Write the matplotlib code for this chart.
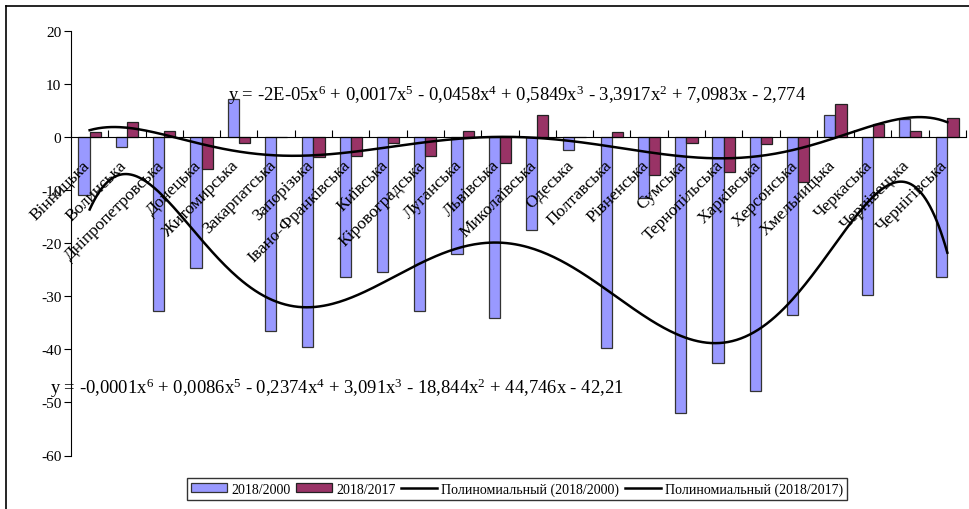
import numpy as np
import matplotlib
matplotlib.use("Agg")
import matplotlib.pyplot as plt
from matplotlib.lines import Line2D

plt.rcParams['font.family'] = ['Liberation Serif', 'DejaVu Serif']
plt.rcParams['mathtext.fontset'] = 'custom'
plt.rcParams['mathtext.rm'] = 'Liberation Serif'
plt.rcParams['mathtext.it'] = 'Liberation Serif:italic'
plt.rcParams['axes.unicode_minus'] = False

regions = ["Вінницька", "Волинська", "Дніпропетровська", "Донецька", "Житомирська",
           "Закарпатська", "Запорізька", "Івано-Франківська", "Київська", "Кіровоградська",
           "Луганська", "Львівська", "Миколаївська", "Одеська", "Полтавська", "Рівненська",
           "Сумська", "Тернопільська", "Харківська", "Херсонська", "Хмельницька",
           "Черкаська", "Чернівецька", "Чернігівська"]

s2000 = [-11.0, -1.8, -32.8, -24.7, 7.2, -36.6, -39.6, -26.4, -25.4, -32.7, -22.0, -34.0,
         -17.5, -2.5, -39.7, -11.5, -52.0, -42.6, -47.8, -33.5, 4.1, -29.8, 3.4, -26.4]
s2017 = [1.0, 2.9, 1.1, -6.0, -1.1, 0.0, -3.8, -3.6, -1.1, -3.5, 1.1, -4.8,
         4.1, 0.0, 1.0, -7.1, -1.1, -6.5, -1.3, -8.4, 6.2, 2.45, 1.1, 3.6]

series_names = ["2018/2000", "2018/2017"]
trend_names = ["Полиномиальный (2018/2000)", "Полиномиальный (2018/2017)"]
eq2017 = (r"y = -2E-05$\mathrm{x}^{6}$ + 0,0017$\mathrm{x}^{5}$ - 0,0458$\mathrm{x}^{4}$ + "
          r"0,5849$\mathrm{x}^{3}$ - 3,3917$\mathrm{x}^{2}$ + 7,0983x - 2,774")
eq2000 = (r"y = -0,0001$\mathrm{x}^{6}$ + 0,0086$\mathrm{x}^{5}$ - 0,2374$\mathrm{x}^{4}$ + "
          r"3,091$\mathrm{x}^{3}$ - 18,844$\mathrm{x}^{2}$ + 44,746x - 42,21")

c_blue = '#9999FF'
c_maroon = '#993366'

W, H = 969, 510
fig = plt.figure(figsize=(W / 100, H / 100), dpi=100)
ax = fig.add_axes([71 / W, 1 - 456.5 / H, (966 - 71) / W, (456.5 - 32) / H])

x = np.arange(1, len(regions) + 1)
bw = 0.3
ax.bar(x - bw / 2, s2000, width=bw, color=c_blue, edgecolor='#333333', linewidth=0.9,
       label=series_names[0], zorder=2)
ax.bar(x + bw / 2, s2017, width=bw, color=c_maroon, edgecolor='#222222', linewidth=0.9,
       label=series_names[1], zorder=2)

xs = np.linspace(1, len(regions), 400)
p2000 = np.polyfit(x, s2000, 6)
p2017 = np.polyfit(x, s2017, 6)
l1, = ax.plot(xs, np.polyval(p2000, xs), color='black', lw=1.8, zorder=3)
l2, = ax.plot(xs, np.polyval(p2017, xs), color='black', lw=1.8, zorder=3)

ax.set_xlim(0.5, len(regions) + 0.5)
ax.set_ylim(-60, 20)
ax.set_yticks(np.arange(-60, 21, 10))
ax.tick_params(axis='y', direction='out', length=5, labelsize=11, pad=2)
ax.spines['top'].set_visible(False)
ax.spines['right'].set_visible(False)
ax.spines['bottom'].set_position(('data', 0))
ax.spines['bottom'].set_zorder(4)
ax.set_xticks(np.arange(0.5, len(regions) + 1, 1))
ax.set_xticklabels([])
ax.tick_params(axis='x', direction='in', length=5)
ax.patch.set_alpha(0)

for i, name in enumerate(regions):
    ax.annotate(name, xy=(x[i], 0), xytext=(-6, -14), textcoords='offset points',
                rotation=45, rotation_mode='anchor', ha='right', va='top',
                fontsize=12.5, zorder=5)

fig.text(228 / W, 1 - 95 / H, eq2017, fontsize=13.4, va='center', ha='left')
fig.text(50 / W, 1 - 388 / H, eq2000, fontsize=13.4, va='center', ha='left')

# chart area border (top and left visible)
fig.add_artist(Line2D([5.5 / W, 1.0], [1 - 7 / H, 1 - 7 / H], color='black', lw=1.2,
                      transform=fig.transFigure))
fig.add_artist(Line2D([5.5 / W, 5.5 / W], [0, 1 - 7 / H], color='black', lw=1.2,
                      transform=fig.transFigure))

handles, labels = ax.get_legend_handles_labels()
leg = fig.legend(handles + [l1, l2], series_names + trend_names, loc='center',
                 bbox_to_anchor=((183 + 851) / 2 / W, 1 - 490 / H), ncol=4,
                 frameon=True, fancybox=False, edgecolor='black', fontsize=10,
                 handlelength=2.6, handleheight=0.6, handletextpad=0.3, columnspacing=0.4,
                 borderpad=0.3, borderaxespad=0)
leg.get_frame().set_linewidth(1.0)

fig.savefig('out.png', dpi=100)
